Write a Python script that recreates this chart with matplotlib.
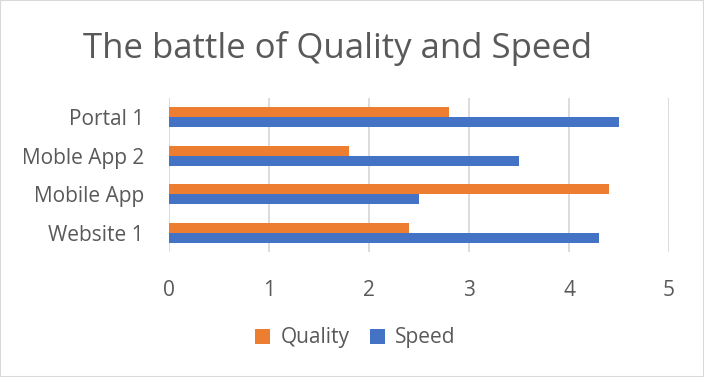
import numpy as np
import matplotlib.pyplot as plt
from matplotlib.patches import Rectangle

# chart data, bottom category first
categories = ['Website 1', 'Mobile App', 'Moble App 2', 'Portal 1']
quality = [2.4, 4.4, 1.8, 2.8]
speed = [4.3, 2.5, 3.5, 4.5]

plt.rcParams['font.family'] = ['Open Sans', 'DejaVu Sans']
text_color = '#595959'

fig = plt.figure(figsize=(7.04, 3.77), dpi=100)
# light grey frame round the whole chart
fig.patches.append(Rectangle((0, 0), 1, 1, transform=fig.transFigure,
                             fill=False, edgecolor='#d9d9d9', linewidth=1.5))

ax = fig.add_axes([169 / 704, 1 - 252 / 377, 500 / 704, 154 / 377])

y = np.arange(len(categories))
h = 0.26
ax.barh(y - h / 2, speed, height=h, color='#4472c4', label='Speed')
ax.barh(y + h / 2, quality, height=h, color='#ed7d31', label='Quality')

ax.set_xlim(0, 5)
ax.set_ylim(-0.5, len(categories) - 0.5)
ax.set_xticks(range(6))
ax.set_yticks(y)
ax.set_yticklabels(categories)
ax.grid(axis='x', color='#d9d9d9', linewidth=1.3)
ax.set_axisbelow(True)
for s in ax.spines.values():
    s.set_visible(False)
ax.tick_params(length=0, labelsize=15, colors=text_color)
ax.tick_params(axis='x', pad=20)
ax.tick_params(axis='y', pad=18)

fig.text(0.479, 1 - 48 / 377, 'The battle of Quality and Speed',
         ha='center', va='center', fontsize=25, color=text_color)

handles, labels = ax.get_legend_handles_labels()
fig.legend(handles[::-1], labels[::-1], loc='center', ncol=2,
           bbox_to_anchor=(0.505, 1 - 338 / 377), frameon=False,
           fontsize=15, labelcolor=text_color, handlelength=0.7,
           handleheight=0.7, handletextpad=0.5, columnspacing=1.0)

fig.savefig('out.png', dpi=100)
